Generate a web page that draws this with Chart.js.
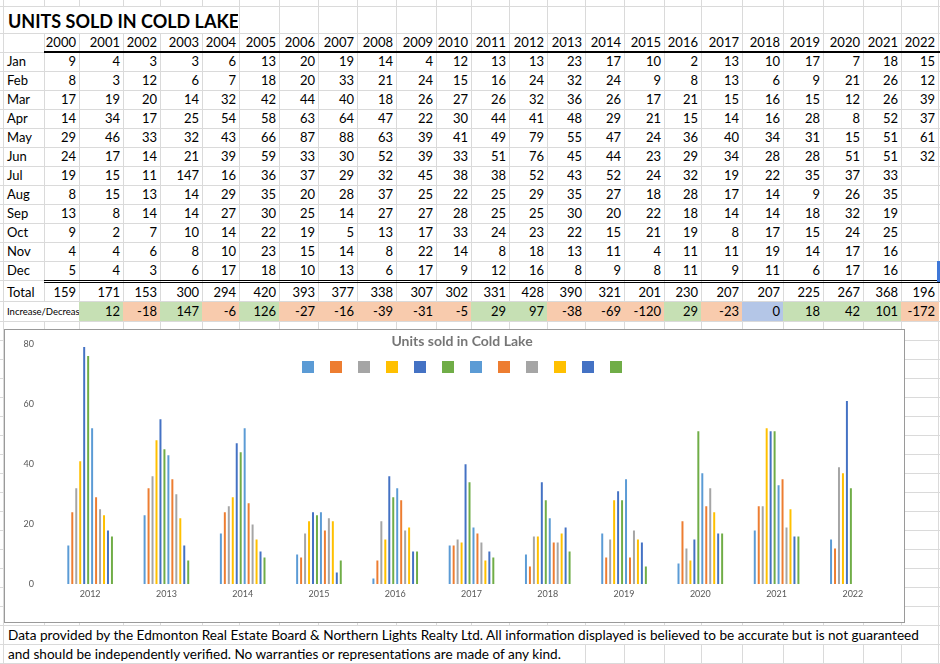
<!DOCTYPE html>
<html>
<head>
<meta charset="utf-8">
<title>Units sold in Cold Lake</title>
<script src="https://cdn.jsdelivr.net/npm/chart.js@4.4.0/dist/chart.umd.min.js"></script>
<style>
  html, body { margin: 0; padding: 0; background: #fff; }
  #sheet { position: relative; width: 940px; height: 664px; overflow: hidden; font-family: Lato, 'Open Sans', sans-serif; font-size: 13px; color: #000; }
  .vl { position: absolute; top: 0; width: 1px; height: 664px; background: #dadada; }
  .hl { position: absolute; left: 0; width: 940px; height: 1px; background: #dadada; }
  .cell { position: absolute; box-sizing: border-box; white-space: nowrap; overflow: hidden; }
  .num { text-align: right; padding-right: 3px; }
  .lbl { padding-left: 4px; }
  .note { font-size: 13.6px; }
  #chartBox { position: absolute; left: 4px; top: 329px; width: 901px; height: 294px; box-sizing: border-box; border: 1px solid #9a9a9a; background: #fff; overflow: hidden; }
  #chartWrap { position: absolute; left: 0; top: 0; width: 914px; height: 292px; }
  #legendList { position: absolute; left: 0; right: 0; top: 31px; display: flex; justify-content: center; gap: 16px; margin: 0; padding: 0; list-style: none; }
  #legendList li { display: block; width: 12px; height: 12px; }
</style>
</head>
<body>
<div id="sheet">
  <div id="chartBox">
    <div id="chartWrap">
      <canvas id="unitsChart"></canvas>
      <ul id="legendList"></ul>
    </div>
  </div>
</div>
<script>
(() => {
  'use strict'

  const years = ['2000', '2001', '2002', '2003', '2004', '2005', '2006', '2007', '2008', '2009', '2010', '2011',
    '2012', '2013', '2014', '2015', '2016', '2017', '2018', '2019', '2020', '2021', '2022']
  const months = ['Jan', 'Feb', 'Mar', 'Apr', 'May', 'Jun', 'Jul', 'Aug', 'Sep', 'Oct', 'Nov', 'Dec']

  const jan = [9, 4, 3, 3, 6, 13, 20, 19, 14, 4, 12, 13, 13, 23, 17, 10, 2, 13, 10, 17, 7, 18, 15]
  const feb = [8, 3, 12, 6, 7, 18, 20, 33, 21, 24, 15, 16, 24, 32, 24, 9, 8, 13, 6, 9, 21, 26, 12]
  const mar = [17, 19, 20, 14, 32, 42, 44, 40, 18, 26, 27, 26, 32, 36, 26, 17, 21, 15, 16, 15, 12, 26, 39]
  const apr = [14, 34, 17, 25, 54, 58, 63, 64, 47, 22, 30, 44, 41, 48, 29, 21, 15, 14, 16, 28, 8, 52, 37]
  const may = [29, 46, 33, 32, 43, 66, 87, 88, 63, 39, 41, 49, 79, 55, 47, 24, 36, 40, 34, 31, 15, 51, 61]
  const jun = [24, 17, 14, 21, 39, 59, 33, 30, 52, 39, 33, 51, 76, 45, 44, 23, 29, 34, 28, 28, 51, 51, 32]
  const jul = [19, 15, 11, 147, 16, 36, 37, 29, 32, 45, 38, 38, 52, 43, 52, 24, 32, 19, 22, 35, 37, 33, null]
  const aug = [8, 15, 13, 14, 29, 35, 20, 28, 37, 25, 22, 25, 29, 35, 27, 18, 28, 17, 14, 9, 26, 35, null]
  const sep = [13, 8, 14, 14, 27, 30, 25, 14, 27, 27, 28, 25, 25, 30, 20, 22, 18, 14, 14, 18, 32, 19, null]
  const oct = [9, 2, 7, 10, 14, 22, 19, 5, 13, 17, 33, 24, 23, 22, 15, 21, 19, 8, 17, 15, 24, 25, null]
  const nov = [4, 4, 6, 8, 10, 23, 15, 14, 8, 22, 14, 8, 18, 13, 11, 4, 11, 11, 19, 14, 17, 16, null]
  const dec = [5, 4, 3, 6, 17, 18, 10, 13, 6, 17, 9, 12, 16, 8, 9, 8, 11, 9, 11, 6, 17, 16, null]

  const totals = [159, 171, 153, 300, 294, 420, 393, 377, 338, 307, 302, 331, 428, 390, 321, 201, 230, 207, 207, 225, 267, 368, 196]
  const changes = [null, 12, -18, 147, -6, 126, -27, -16, -39, -31, -5, 29, 97, -38, -69, -120, 29, -23, 0, 18, 42, 101, -172]

  const yTicks = [0, 20, 40, 60, 80]
  const chartFirstYear = '2012'
  const seriesColors = ['#5B9BD5', '#ED7D31', '#A5A5A5', '#FFC000', '#4472C4', '#70AD47',
    '#5B9BD5', '#ED7D31', '#A5A5A5', '#FFC000', '#4472C4', '#70AD47']

  const monthSeries = [jan, feb, mar, apr, may, jun, jul, aug, sep, oct, nov, dec]

  // ---- spreadsheet layout ----
  const colEdges = [3, 44, 79, 123, 160, 202, 239, 279, 318, 357, 396, 436, 471, 509, 547, 585, 624, 664, 701, 742, 783, 823, 863, 901, 938]
  const sheet = document.getElementById('sheet')
  const chartBox = document.getElementById('chartBox')

  const add = (cls, css, text) => {
    const el = document.createElement('div')
    el.className = cls
    Object.assign(el.style, css)
    if (text !== undefined) el.textContent = text
    sheet.insertBefore(el, chartBox)
    return el
  }

  colEdges.forEach(x => add('vl', { left: x + 'px' }))
  const hLines = [6, 33]
  for (let y = 52; y <= 280; y += 19) hLines.push(y)
  hLines.push(301)
  for (let y = 321; y <= 663; y += 19) hLines.push(y)
  hLines.forEach(y => add('hl', { top: y + 'px' }))

  const cellBox = (c, top, h) => ({
    left: colEdges[c] + 'px',
    width: (colEdges[c + 1] - colEdges[c]) + 'px',
    top: top + 'px',
    height: h + 'px',
    lineHeight: h + 'px'
  })

  // title
  add('cell', { left: '4px', top: '7px', width: '234px', height: '26px', lineHeight: '28px', background: '#fff',
    paddingLeft: '4px', fontSize: '18px', fontWeight: 'bold' }, 'UNITS SOLD IN COLD LAKE')

  // year header
  years.forEach((yr, i) => add('cell num', cellBox(i + 1, 33, 19), yr))
  add('cell', { left: '44px', top: '51px', width: '896px', height: '2px', background: '#000' })

  // month rows
  months.forEach((m, r) => {
    const top = 52 + r * 19
    add('cell lbl', cellBox(0, top, 19), m)
    monthSeries[r].forEach((v, i) => {
      if (v !== null) add('cell num', cellBox(i + 1, top, 19), String(v))
    })
  })

  // double rule under Dec
  add('cell', { left: '44px', top: '280px', width: '896px', height: '1px', background: '#000' })
  add('cell', { left: '44px', top: '282px', width: '896px', height: '1px', background: '#000' })

  // totals
  add('cell lbl', cellBox(0, 283, 18), 'Total')
  totals.forEach((v, i) => add('cell num', cellBox(i + 1, 283, 18), String(v)))

  // increase / decrease
  add('cell', { left: '4px', top: '302px', width: '75px', height: '19px', lineHeight: '19px', background: '#fff',
    paddingLeft: '3px', fontSize: '9.5px' }, 'Increase/Decrease')
  changes.forEach((v, i) => {
    if (v === null) return
    const fill = v > 0 ? '#C6E0B4' : (v < 0 ? '#F8CBAD' : '#B4C6E7')
    const box = cellBox(i + 1, 302, 19)
    box.width = (colEdges[i + 2] - colEdges[i + 1] + 1) + 'px'
    box.background = fill
    box.paddingRight = '4px'
    add('cell num', box, String(v))
  })

  // active cell marker
  add('cell', { left: '937px', top: '261px', width: '3px', height: '21px', background: '#3f78d8' })

  // footer note (overflows across the cells, hiding their gridlines)
  add('cell note', { left: '4px', top: '626px', width: '934px', height: '18px', lineHeight: '18px', background: '#fff', paddingLeft: '4px' },
    'Data provided by the Edmonton Real Estate Board & Northern Lights Realty Ltd. All information displayed is believed to be accurate but is not guaranteed')
  add('cell note', { left: '4px', top: '645px', width: '581px', height: '18px', lineHeight: '18px', background: '#fff', paddingLeft: '4px' },
    'and should be independently verified. No warranties or representations are made of any kind.')

  // ---- chart ----
  Chart.defaults.font.family = 'Lato, "Open Sans", sans-serif'
  const startIdx = years.indexOf(chartFirstYear)
  const chartYears = years.slice(startIdx)

  // legend squares without text, built from the chart's own legend items
  const htmlLegend = {
    id: 'htmlLegend',
    afterUpdate (chart) {
      const list = document.getElementById('legendList')
      list.innerHTML = ''
      chart.options.plugins.legend.labels.generateLabels(chart).forEach(item => {
        const li = document.createElement('li')
        li.style.background = item.fillStyle
        li.title = item.text
        list.appendChild(li)
      })
    }
  }

  // eslint-disable-next-line no-unused-vars
  const unitsChart = new Chart(document.getElementById('unitsChart'), {
    type: 'bar',
    data: {
      labels: chartYears,
      datasets: monthSeries.map((values, i) => ({
        label: months[i],
        data: values.slice(startIdx),
        backgroundColor: seriesColors[i],
        borderWidth: 0,
        categoryPercentage: 0.624,
        barPercentage: 0.5
      }))
    },
    options: {
      responsive: true,
      maintainAspectRatio: false,
      animation: false,
      layout: { padding: 0 },
      plugins: {
        legend: { display: false },
        tooltip: { enabled: false },
        title: {
          display: true,
          text: 'Units sold in Cold Lake',
          color: '#767676',
          font: { size: 14, weight: 'bold' },
          padding: { top: 2.6, bottom: -5.4 }
        }
      },
      scales: {
        x: {
          grid: { display: false, drawTicks: false },
          border: { display: false },
          ticks: { padding: 4, color: '#595959', font: { size: 9 } },
          afterFit: scale => { scale.height = 37.5 }
        },
        y: {
          min: yTicks[0],
          max: yTicks[yTicks.length - 1],
          grid: { display: true, drawOnChartArea: false, drawTicks: true, tickLength: 16, tickColor: 'rgba(0,0,0,0)' },
          border: { display: false },
          ticks: { stepSize: yTicks[1] - yTicks[0], padding: 2, color: '#595959', font: { size: 9 } },
          afterFit: scale => { scale.width = 47 }
        },
        // empty right-hand spacer so the title sits where it does in the original
        spacer: {
          type: 'linear',
          position: 'right',
          grid: { display: false, drawTicks: false },
          border: { display: false },
          ticks: { display: false },
          afterFit: scale => { scale.width = 28 }
        }
      }
    },
    plugins: [htmlLegend]
  })
})()
</script>
</body>
</html>
